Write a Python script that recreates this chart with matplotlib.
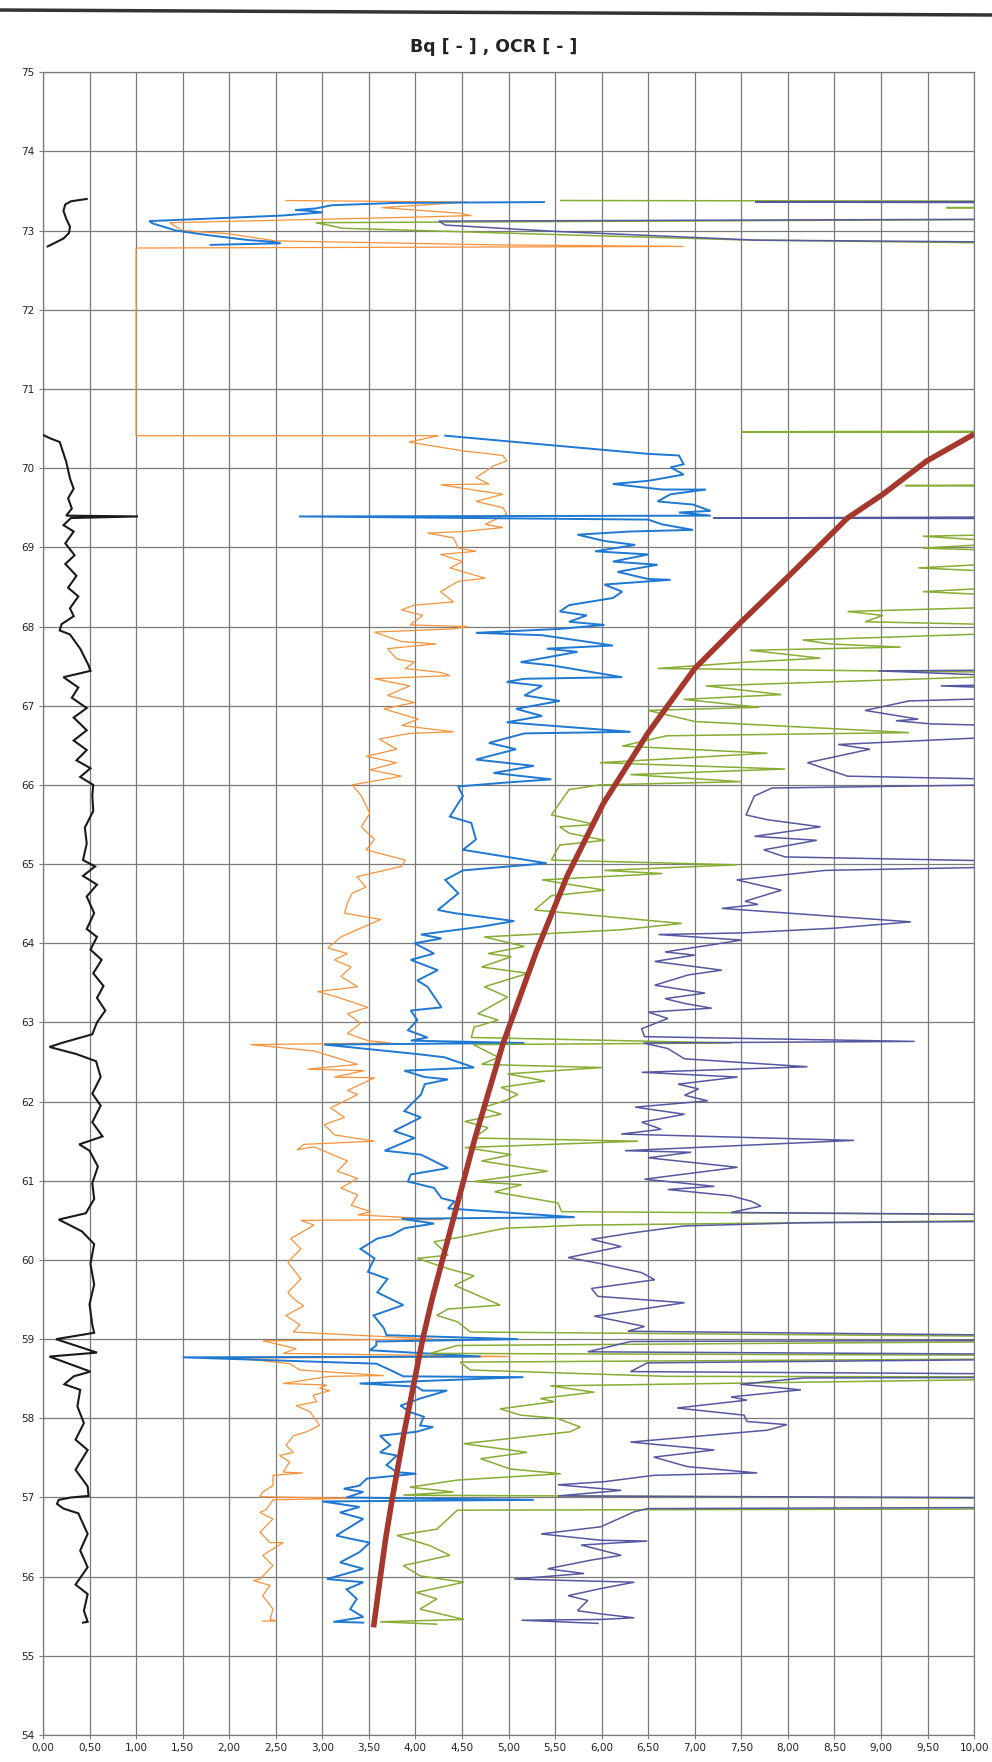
import numpy as np
import matplotlib
matplotlib.use('Agg')
import matplotlib.pyplot as plt
from matplotlib.lines import Line2D

# value, depth pairs (x > 10 runs off the right edge)
bq_top = [(0.47, 73.40), (0.30, 73.37), (0.24, 73.33), (0.22, 73.25), (0.25, 73.15), (0.29, 73.05),
          (0.28, 72.97), (0.22, 72.90), (0.12, 72.84), (0.05, 72.80)]
bq_main = [(0.0, 70.42), (0.07, 70.38), (0.18, 70.33), (0.25, 70.08), (0.29, 69.87), (0.33, 69.74),
           (0.27, 69.62), (0.31, 69.49), (0.25, 69.40), (1.02, 69.39), (0.30, 69.37), (0.22, 69.28),
           (0.33, 69.20), (0.24, 69.05), (0.34, 68.90), (0.24, 68.79), (0.36, 68.64), (0.27, 68.49),
           (0.38, 68.38), (0.29, 68.23), (0.33, 68.13), (0.20, 68.03), (0.18, 67.95), (0.29, 67.90),
           (0.40, 67.72), (0.49, 67.51), (0.51, 67.44), (0.22, 67.36), (0.38, 67.23), (0.31, 67.10),
           (0.47, 66.97), (0.33, 66.85), (0.47, 66.69), (0.33, 66.56), (0.47, 66.44), (0.36, 66.31),
           (0.51, 66.21), (0.40, 66.10), (0.54, 66.00), (0.53, 65.87), (0.54, 65.67), (0.45, 65.46),
           (0.47, 65.26), (0.43, 65.05), (0.56, 64.97), (0.43, 64.85), (0.58, 64.74), (0.47, 64.59),
           (0.55, 64.38), (0.47, 64.18), (0.58, 64.08), (0.51, 63.92), (0.63, 63.79), (0.54, 63.62),
           (0.65, 63.46), (0.58, 63.31), (0.67, 63.15), (0.58, 63.00), (0.53, 62.85), (0.20, 62.74),
           (0.07, 62.69), (0.36, 62.60), (0.57, 62.51), (0.62, 62.31), (0.53, 62.10), (0.62, 61.95),
           (0.53, 61.74), (0.64, 61.56), (0.39, 61.46), (0.50, 61.38), (0.59, 61.18), (0.53, 60.97),
           (0.55, 60.77), (0.46, 60.59), (0.17, 60.51), (0.42, 60.36), (0.55, 60.20), (0.51, 59.95),
           (0.55, 59.69), (0.50, 59.44), (0.53, 59.18), (0.55, 59.08), (0.14, 59.00), (0.58, 58.83),
           (0.07, 58.78), (0.51, 58.59), (0.33, 58.53), (0.23, 58.43), (0.40, 58.36), (0.37, 58.15),
           (0.44, 57.94), (0.35, 57.73), (0.48, 57.60), (0.35, 57.35), (0.48, 57.14), (0.49, 57.02),
           (0.30, 57.00), (0.17, 56.97), (0.15, 56.92), (0.22, 56.86), (0.38, 56.80), (0.48, 56.54),
           (0.40, 56.33), (0.48, 56.12), (0.35, 55.90), (0.48, 55.78), (0.44, 55.57), (0.48, 55.43),
           (0.43, 55.42)]

ocr_orange = [(2.61, 73.38), (4.55, 73.36), (3.64, 73.29), (4.47, 73.22), (4.60, 73.19), (4.00, 73.17),
              (1.36, 73.10), (1.50, 73.00), (2.00, 72.96), (2.50, 72.87), (4.86, 72.82), (6.88, 72.80),
              (1.00, 72.78), (1.00, 70.41), (4.25, 70.41), (3.93, 70.33), (4.50, 70.22), (4.94, 70.16),
              (4.98, 70.09), (4.84, 70.03), (4.65, 69.88), (4.79, 69.80), (4.27, 69.79), (4.70, 69.71),
              (4.94, 69.67), (4.65, 69.58), (4.94, 69.50), (4.98, 69.42), (4.75, 69.29), (4.94, 69.25),
              (4.51, 69.20), (4.13, 69.18), (4.41, 69.12), (4.46, 68.99), (4.65, 68.95), (4.27, 68.91),
              (4.51, 68.82), (4.37, 68.74), (4.75, 68.61), (4.46, 68.57), (4.27, 68.44), (4.41, 68.31),
              (3.99, 68.27), (3.85, 68.21), (4.08, 68.14), (3.94, 68.02), (4.56, 68.00), (4.41, 67.97),
              (3.56, 67.93), (3.85, 67.81), (4.22, 67.78), (3.70, 67.72), (3.80, 67.59), (3.99, 67.55),
              (3.89, 67.47), (4.27, 67.42), (4.37, 67.38), (3.56, 67.34), (3.94, 67.25), (3.70, 67.13),
              (3.99, 67.04), (3.66, 66.96), (4.03, 66.83), (3.85, 66.75), (4.41, 66.67), (3.94, 66.65),
              (3.61, 66.58), (3.80, 66.45), (3.47, 66.36), (3.80, 66.28), (3.51, 66.19), (3.85, 66.11),
              (3.47, 66.03), (3.32, 66.00), (3.42, 65.86), (3.51, 65.64), (3.42, 65.47), (3.56, 65.31),
              (3.47, 65.18), (3.89, 65.05), (3.85, 64.97), (3.37, 64.84), (3.47, 64.71), (3.32, 64.63),
              (3.27, 64.51), (3.24, 64.38), (3.63, 64.30), (3.45, 64.21), (3.20, 64.08), (3.06, 63.94),
              (3.27, 63.87), (3.13, 63.79), (3.31, 63.70), (3.20, 63.58), (3.38, 63.45), (2.95, 63.39),
              (3.16, 63.32), (3.49, 63.19), (3.27, 63.11), (3.41, 62.99), (3.27, 62.86), (3.49, 62.77),
              (3.74, 62.74), (2.23, 62.72), (2.91, 62.64), (3.38, 62.47), (2.84, 62.41), (3.45, 62.39),
              (3.13, 62.31), (3.56, 62.30), (3.27, 62.14), (3.38, 62.09), (3.09, 61.92), (3.24, 61.80),
              (3.02, 61.71), (3.13, 61.58), (3.56, 61.50), (2.80, 61.46), (2.73, 61.39), (2.91, 61.43),
              (3.27, 61.25), (3.16, 61.12), (3.38, 61.03), (3.20, 60.91), (3.38, 60.82), (3.31, 60.69),
              (3.52, 60.61), (3.38, 60.57), (4.30, 60.51), (2.77, 60.50), (2.91, 60.44), (2.66, 60.27),
              (2.77, 60.14), (2.63, 59.97), (2.77, 59.76), (2.63, 59.59), (2.69, 59.51), (2.80, 59.42),
              (2.61, 59.30), (2.76, 59.18), (2.69, 59.09), (4.20, 59.00), (2.36, 58.98), (2.72, 58.88),
              (2.58, 58.82), (5.00, 58.78), (2.10, 58.76), (2.65, 58.69), (2.76, 58.61), (3.66, 58.54),
              (3.08, 58.53), (2.58, 58.44), (3.05, 58.42), (2.97, 58.38), (3.08, 58.35), (2.90, 58.29),
              (2.94, 58.21), (2.72, 58.16), (2.87, 58.08), (2.97, 57.91), (2.83, 57.83), (2.69, 57.78),
              (2.61, 57.66), (2.69, 57.57), (2.54, 57.53), (2.65, 57.45), (2.58, 57.32), (2.79, 57.31),
              (2.47, 57.28), (2.47, 57.15), (2.36, 57.07), (2.33, 57.01), (3.30, 56.99), (2.47, 56.97),
              (2.40, 56.85), (2.33, 56.81), (2.47, 56.73), (2.33, 56.56), (2.44, 56.43), (2.58, 56.43),
              (2.36, 56.27), (2.47, 56.14), (2.33, 55.97), (2.26, 55.95), (2.44, 55.89), (2.36, 55.76),
              (2.47, 55.59), (2.44, 55.46), (2.51, 55.44), (2.36, 55.44)]

ocr_blue_top = [(5.38, 73.36), (3.79, 73.35), (3.10, 73.32), (2.93, 73.28), (2.71, 73.26), (2.85, 73.25),
                (3.00, 73.23), (2.57, 73.19), (1.14, 73.12), (1.18, 73.09), (1.43, 73.00), (1.79, 72.94),
                (2.21, 72.88), (2.46, 72.86), (2.55, 72.84), (1.80, 72.82)]
ocr_blue = [(4.32, 70.41), (6.50, 70.18), (6.83, 70.16), (6.88, 70.05), (6.74, 70.01), (6.88, 69.92),
            (6.60, 69.86), (6.50, 69.84), (6.12, 69.80), (6.65, 69.73), (7.12, 69.73), (6.74, 69.67),
            (6.60, 69.58), (6.98, 69.54), (7.17, 69.46), (6.83, 69.44), (7.17, 69.40), (2.75, 69.39),
            (6.50, 69.35), (6.65, 69.29), (6.98, 69.22), (6.31, 69.20), (5.74, 69.16), (6.03, 69.08),
            (6.36, 69.03), (5.93, 68.95), (6.50, 68.91), (6.12, 68.82), (6.60, 68.78), (6.17, 68.69),
            (6.50, 68.60), (6.74, 68.59), (6.03, 68.53), (6.22, 68.44), (6.12, 68.36), (5.65, 68.27),
            (5.55, 68.19), (5.84, 68.14), (5.65, 68.06), (6.03, 68.02), (5.55, 67.97), (4.65, 67.92),
            (5.36, 67.89), (6.12, 67.76), (5.41, 67.72), (5.74, 67.68), (5.13, 67.55), (5.46, 67.51),
            (6.22, 67.36), (5.17, 67.34), (4.98, 67.30), (5.36, 67.25), (5.17, 67.13), (5.55, 67.06),
            (5.08, 66.96), (5.36, 66.87), (4.98, 66.79), (6.31, 66.67), (5.17, 66.65), (4.79, 66.53),
            (5.08, 66.45), (4.65, 66.32), (5.27, 66.24), (4.84, 66.15), (5.46, 66.07), (4.98, 66.03),
            (4.46, 65.98), (4.51, 65.86), (4.37, 65.60), (4.60, 65.52), (4.65, 65.31), (4.51, 65.18),
            (5.41, 65.01), (4.51, 64.92), (4.32, 64.80), (4.46, 64.63), (4.24, 64.42), (4.42, 64.38),
            (5.06, 64.28), (4.71, 64.21), (4.06, 64.11), (4.28, 64.06), (3.99, 64.00), (4.20, 63.87),
            (3.95, 63.79), (4.24, 63.66), (4.02, 63.53), (4.13, 63.45), (4.28, 63.19), (3.95, 63.15),
            (4.02, 63.03), (3.92, 62.90), (4.13, 62.81), (3.95, 62.77), (5.17, 62.74), (3.02, 62.72),
            (4.02, 62.60), (4.31, 62.56), (4.63, 62.43), (3.88, 62.39), (4.10, 62.31), (4.35, 62.28),
            (4.10, 62.22), (4.06, 62.09), (3.88, 61.88), (4.06, 61.80), (3.77, 61.63), (3.99, 61.54),
            (3.67, 61.38), (4.06, 61.33), (4.35, 61.16), (3.95, 61.08), (3.92, 60.99), (4.20, 60.91),
            (4.28, 60.78), (4.42, 60.74), (4.35, 60.65), (5.71, 60.54), (3.85, 60.52), (4.20, 60.46),
            (3.88, 60.40), (3.74, 60.31), (3.59, 60.27), (3.41, 60.14), (3.56, 60.02), (3.49, 59.85),
            (3.70, 59.76), (3.59, 59.59), (3.73, 59.51), (3.87, 59.43), (3.55, 59.30), (3.66, 59.14),
            (3.69, 59.05), (5.10, 59.00), (3.58, 58.97), (3.58, 58.92), (3.51, 58.86), (4.70, 58.78),
            (1.50, 58.77), (3.58, 58.69), (3.73, 58.61), (3.87, 58.53), (5.16, 58.52), (3.40, 58.44),
            (4.01, 58.40), (4.08, 58.35), (4.34, 58.35), (4.05, 58.25), (3.84, 58.16), (3.94, 58.08),
            (4.09, 58.02), (4.05, 57.91), (4.19, 57.89), (4.01, 57.83), (3.62, 57.78), (3.73, 57.66),
            (3.62, 57.57), (3.80, 57.53), (3.69, 57.41), (3.80, 57.32), (4.01, 57.30), (3.48, 57.24),
            (3.40, 57.15), (3.23, 57.11), (3.44, 57.07), (3.26, 57.00), (5.27, 56.97), (3.00, 56.95),
            (3.40, 56.88), (3.19, 56.81), (3.44, 56.73), (3.33, 56.65), (3.15, 56.52), (3.30, 56.48),
            (3.51, 56.43), (3.40, 56.31), (3.19, 56.18), (3.44, 56.10), (3.05, 55.97), (3.44, 55.93),
            (3.26, 55.84), (3.37, 55.72), (3.30, 55.59), (3.44, 55.49), (3.12, 55.43), (3.44, 55.42)]

ocr_green_top = [(5.56, 73.38), (12, 73.37), (12, 73.30), (9.70, 73.29), (12, 73.28), (12, 73.15),
                 (2.93, 73.10), (3.10, 73.06), (3.21, 73.03), (5.50, 72.95), (7.60, 72.88), (12, 72.82)]
ocr_green = [(12, 70.47), (7.50, 70.46), (12, 70.45), (12, 69.80), (9.26, 69.78), (12, 69.76),
             (12, 69.20), (9.45, 69.14), (10.5, 69.06), (9.45, 68.99), (12, 68.90), (9.40, 68.74),
             (12, 68.60), (9.45, 68.44), (12, 68.30), (8.64, 68.19), (9.02, 68.14), (8.83, 68.06),
             (12, 67.98), (8.16, 67.83), (8.45, 67.78), (9.21, 67.74), (7.59, 67.70), (8.35, 67.60),
             (7.55, 67.55), (6.60, 67.47), (12, 67.40), (10.0, 67.36), (7.12, 67.25), (7.93, 67.14),
             (6.88, 67.08), (7.69, 66.98), (6.50, 66.94), (7.00, 66.80), (9.30, 66.66), (6.70, 66.62),
             (6.22, 66.49), (7.78, 66.40), (5.98, 66.28), (7.97, 66.20), (6.31, 66.13), (7.50, 66.04),
             (5.98, 66.00), (5.65, 65.94), (5.46, 65.62), (5.93, 65.50), (5.55, 65.47), (5.65, 65.39),
             (6.03, 65.30), (5.55, 65.24), (5.46, 65.05), (7.45, 64.99), (6.03, 64.92), (6.65, 64.88),
             (5.36, 64.80), (6.03, 64.67), (5.46, 64.60), (5.28, 64.42), (6.86, 64.25), (6.21, 64.17),
             (4.74, 64.08), (5.17, 63.96), (4.78, 63.87), (5.03, 63.83), (4.71, 63.70), (5.21, 63.62),
             (4.74, 63.45), (4.99, 63.32), (4.67, 63.11), (4.89, 63.03), (4.63, 62.94), (4.60, 62.81),
             (7.40, 62.74), (4.62, 62.72), (4.89, 62.56), (4.71, 62.47), (6.00, 62.43), (4.99, 62.35),
             (5.39, 62.26), (4.92, 62.18), (5.10, 62.09), (4.96, 62.01), (4.71, 61.92), (4.92, 61.84),
             (4.53, 61.75), (4.78, 61.67), (4.63, 61.54), (6.39, 61.50), (4.53, 61.42), (5.03, 61.33),
             (4.71, 61.25), (5.42, 61.12), (4.63, 60.99), (5.14, 60.95), (4.85, 60.86), (5.24, 60.78),
             (5.53, 60.72), (5.57, 60.61), (12, 60.56), (12, 60.52), (5.78, 60.44), (4.96, 60.40),
             (4.49, 60.29), (4.20, 60.23), (4.35, 60.06), (4.02, 60.02), (4.35, 59.89), (4.63, 59.80),
             (4.42, 59.68), (4.91, 59.43), (4.35, 59.38), (4.23, 59.30), (4.45, 59.22), (4.59, 59.09),
             (12, 59.02), (12, 58.98), (4.45, 58.92), (4.16, 58.82), (12, 58.79), (12, 58.76),
             (4.48, 58.71), (4.59, 58.61), (6.70, 58.53), (12, 58.52), (5.45, 58.41), (5.92, 58.33),
             (5.34, 58.25), (5.49, 58.21), (4.91, 58.12), (5.13, 58.04), (5.52, 58.00), (5.77, 57.89),
             (5.66, 57.83), (4.52, 57.68), (5.20, 57.57), (4.70, 57.49), (5.02, 57.36), (5.56, 57.30),
             (4.45, 57.22), (3.94, 57.13), (4.41, 57.07), (3.87, 57.03), (12, 56.98), (12, 56.92),
             (12, 56.86), (4.45, 56.84), (4.23, 56.60), (3.80, 56.52), (4.16, 56.39), (4.37, 56.27),
             (3.87, 56.14), (4.05, 56.01), (4.52, 55.93), (4.01, 55.80), (4.23, 55.72), (4.05, 55.59),
             (4.52, 55.46), (3.62, 55.43), (4.23, 55.40)]

ocr_purple_top = [(12, 73.37), (7.65, 73.36), (12, 73.35), (12, 73.15), (4.25, 73.12), (4.32, 73.07),
                  (5.50, 72.99), (7.65, 72.88), (12, 72.84)]
ocr_purple_spike = [(12, 69.39), (7.20, 69.37), (12, 69.36)]
ocr_purple = [(12, 67.46), (8.97, 67.44), (12, 67.30), (9.64, 67.25), (12, 67.15), (9.30, 67.06),
              (8.83, 66.94), (9.40, 66.83), (9.16, 66.81), (9.54, 66.77), (12, 66.70), (8.54, 66.51),
              (8.88, 66.45), (8.21, 66.28), (8.64, 66.11), (12, 66.03), (7.83, 65.96), (7.64, 65.86),
              (7.55, 65.62), (7.78, 65.56), (8.35, 65.47), (7.64, 65.35), (8.31, 65.30), (7.74, 65.18),
              (7.97, 65.09), (12, 65.00), (8.40, 64.92), (7.45, 64.80), (7.93, 64.67), (7.54, 64.53),
              (7.68, 64.49), (7.29, 64.44), (9.32, 64.27), (8.50, 64.19), (7.50, 64.13), (6.61, 64.11),
              (7.50, 64.04), (7.18, 63.98), (6.68, 63.89), (7.00, 63.85), (6.57, 63.77), (7.29, 63.66),
              (6.93, 63.60), (6.57, 63.47), (7.11, 63.37), (6.68, 63.30), (6.89, 63.24), (7.18, 63.18),
              (6.50, 63.13), (6.71, 63.05), (6.43, 62.92), (6.46, 62.82), (9.36, 62.76), (6.45, 62.74),
              (6.71, 62.67), (6.89, 62.54), (8.21, 62.44), (6.43, 62.37), (7.46, 62.31), (6.82, 62.22),
              (7.04, 62.16), (6.89, 62.08), (7.14, 62.01), (6.36, 61.93), (6.89, 61.84), (6.43, 61.74),
              (6.64, 61.65), (6.21, 61.59), (8.71, 61.51), (6.25, 61.38), (6.96, 61.36), (6.50, 61.29),
              (7.46, 61.17), (6.46, 61.02), (7.21, 60.93), (6.71, 60.89), (7.39, 60.81), (7.61, 60.74),
              (7.71, 60.68), (7.39, 60.60), (12, 60.56), (12, 60.50), (8.18, 60.47), (6.89, 60.43),
              (6.32, 60.34), (5.89, 60.26), (6.21, 60.17), (5.64, 60.03), (5.96, 59.96), (6.43, 59.84),
              (6.57, 59.75), (5.89, 59.64), (5.96, 59.54), (6.89, 59.46), (5.92, 59.29), (6.46, 59.16),
              (6.28, 59.10), (12, 59.03), (12, 58.99), (6.31, 58.97), (5.85, 58.84), (12, 58.80),
              (12, 58.76), (6.49, 58.70), (6.31, 58.59), (12, 58.55), (12, 58.52), (8.17, 58.51),
              (7.49, 58.43), (8.14, 58.36), (7.39, 58.27), (7.56, 58.23), (6.81, 58.13), (7.53, 58.04),
              (7.56, 57.96), (7.99, 57.92), (7.78, 57.85), (6.31, 57.70), (7.21, 57.60), (6.56, 57.51),
              (6.92, 57.39), (7.67, 57.31), (6.56, 57.28), (6.03, 57.20), (5.53, 57.16), (6.21, 57.09),
              (5.53, 57.02), (12, 56.99), (12, 56.88), (6.49, 56.86), (6.35, 56.82), (5.99, 56.63),
              (5.35, 56.54), (5.99, 56.46), (6.49, 56.45), (5.78, 56.40), (6.21, 56.27), (5.89, 56.21),
              (5.42, 56.10), (5.81, 56.04), (5.06, 55.97), (6.35, 55.93), (5.99, 55.85), (5.64, 55.76),
              (5.85, 55.70), (5.74, 55.57), (5.99, 55.53), (6.35, 55.48), (5.99, 55.46), (5.14, 55.45),
              (5.96, 55.41)]

ocr_trend = [(3.55, 55.36), (3.62, 55.97), (3.68, 56.48), (3.75, 56.98), (3.88, 57.83), (4.08, 59.01),
             (4.18, 59.51), (4.29, 60.00), (4.41, 60.53), (4.64, 61.54), (4.94, 62.73), (5.30, 63.90),
             (5.63, 64.85), (6.02, 65.77), (6.50, 66.66), (7.00, 67.47), (7.50, 68.06), (8.02, 68.65),
             (8.64, 69.37), (9.02, 69.67), (9.49, 70.09), (10.0, 70.43)]

x_ticks = np.arange(0, 10.01, 0.5)
y_ticks = np.arange(54, 76, 1)

fnt = ['Liberation Sans Narrow', 'DejaVu Sans']

fig = plt.figure(figsize=(9.92, 17.62), dpi=100)
ax = fig.add_axes([0.0433, 0.0153, 0.9387, 0.9437])


def draw(pts, color, lw):
    a = np.array(pts, dtype=float)
    ax.plot(a[:, 0], a[:, 1], color=color, lw=lw, solid_joinstyle='miter', zorder=3)


draw(bq_top, '#1a1a1a', 1.5)
draw(bq_main, '#1a1a1a', 1.5)
draw(ocr_orange, '#f7923a', 0.9)
draw(ocr_blue_top, '#1f78d1', 1.4)
draw(ocr_blue, '#1f78d1', 1.4)
draw(ocr_green_top, '#86ad34', 1.1)
draw(ocr_green, '#86ad34', 1.1)
draw(ocr_purple_top, '#5558a0', 1.1)
draw(ocr_purple_spike, '#5558a0', 1.1)
draw(ocr_purple, '#5558a0', 1.1)
tr = np.array(ocr_trend)
ax.plot(tr[:, 0], tr[:, 1], color='#a5372c', lw=4, solid_capstyle='butt', zorder=4)

ax.set_xlim(0, 10)
ax.set_ylim(54, 75)
ax.set_xticks(x_ticks)
ax.set_yticks(y_ticks)
ax.set_xticklabels([('%.2f' % v).replace('.', ',') for v in x_ticks], fontsize=7.5,
                   family=fnt, color='#222222')
ax.set_yticklabels(['%d' % v for v in y_ticks], fontsize=7.5, family=fnt, color='#222222')
ax.tick_params(length=3, color='#808080', pad=3)
ax.grid(True, color='#7a7a7a', lw=0.9, zorder=1)
ax.set_axisbelow(True)
for s in ax.spines.values():
    s.set_color('#7a7a7a')
    s.set_linewidth(0.9)

fig.text(0.498, 0.9735, 'Bq [ - ] , OCR [ - ]', ha='center', va='center', fontsize=12.5,
         fontweight='bold', family=fnt, color='#222222')
fig.add_artist(Line2D([0, 1], [1 - 10 / 1762, 1 - 15 / 1762], color='#333333', lw=2.5))

fig.savefig('out.png', dpi=100, facecolor='white')
